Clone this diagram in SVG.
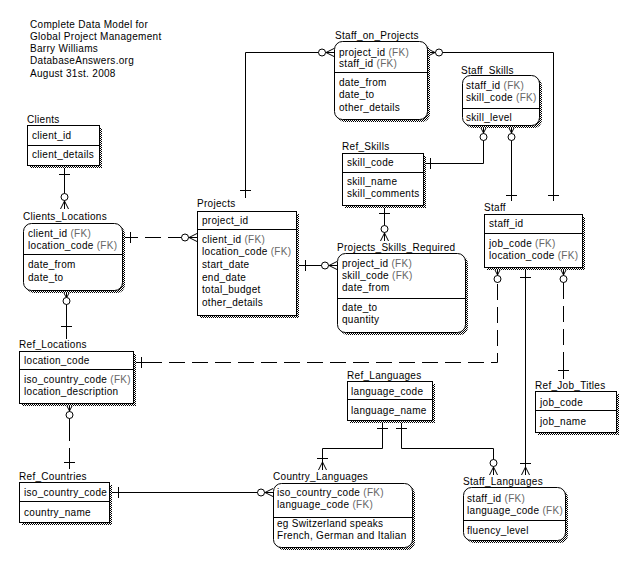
<svg xmlns="http://www.w3.org/2000/svg" width="644" height="576" viewBox="0 0 644 576">
<defs>
<pattern id="hatch" width="2" height="2" patternUnits="userSpaceOnUse">
<rect width="2" height="2" fill="#fff"/>
<rect width="1" height="1" fill="#000"/>
<rect x="1" y="1" width="1" height="1" fill="#000"/>
</pattern>
<style>
.t{font-family:"Liberation Sans",Arial,sans-serif;font-size:10px;letter-spacing:0.3px;fill:#000}
.fk{fill:#666}
.box{fill:#fff;stroke:#000;stroke-width:1}
.sh{fill:url(#hatch)}
.ln{stroke:#000;stroke-width:1;fill:none}
.dash{stroke-dasharray:16,7}
.c{fill:#fff;stroke:#000;stroke-width:1}
</style>
</defs>
<rect width="644" height="576" fill="#fff"/>
<g id="title" class="t">
<text x="30" y="27.5">Complete Data Model for</text>
<text x="30" y="39.8">Global Project Management</text>
<text x="30" y="52.1">Barry Williams</text>
<text x="30" y="64.4">DatabaseAnswers.org</text>
<text x="30" y="76.7">August 31st. 2008</text>
</g>
<g id="connectors">
<!-- Projects - Staff_on_Projects -->
<path class="ln" d="M245.5,198 V52.5 H334"/>
<path class="ln" d="M240,190.5 H251"/>
<path class="ln" d="M326,52.5 L334,48.5 M326,52.5 L334,52.5 M326,52.5 L334,56.5"/>
<circle class="c" cx="322" cy="52.5" r="3.5"/>
<!-- Staff_on_Projects - Staff -->
<path class="ln" d="M427,52.5 H553.5 V201"/>
<path class="ln" d="M435,52.5 L427,48.5 M435,52.5 L427,52.5 M435,52.5 L427,56.5"/>
<circle class="c" cx="439" cy="52.5" r="3.5"/>
<path class="ln" d="M548,195.5 H559"/>
<!-- Staff_Skills - Staff -->
<path class="ln" d="M511.5,125 V201"/>
<path class="ln" d="M511.5,133 L507.5,125 M511.5,133 L511.5,125 M511.5,133 L515.5,125"/>
<circle class="c" cx="511.5" cy="137" r="3.5"/>
<path class="ln" d="M506,195.5 H517"/>
<!-- Ref_Skills - Staff_Skills -->
<path class="ln" d="M423,163.5 H483.5 V125"/>
<path class="ln" d="M430.5,158 V169"/>
<path class="ln" d="M483.5,133 L479.5,125 M483.5,133 L483.5,125 M483.5,133 L487.5,125"/>
<circle class="c" cx="483.5" cy="137" r="3.5"/>
<!-- Ref_Skills - Projects_Skills_Required -->
<path class="ln" d="M384.5,205 V241"/>
<path class="ln" d="M379,213.5 H390"/>
<path class="ln" d="M384.5,233 L380.5,241 M384.5,233 L384.5,241 M384.5,233 L388.5,241"/>
<circle class="c" cx="384.5" cy="229" r="3.5"/>
<!-- Projects - Projects_Skills_Required -->
<path class="ln" d="M296,265.5 H337"/>
<path class="ln" d="M305.5,260 V271"/>
<path class="ln" d="M329,265.5 L337,261.5 M329,265.5 L337,265.5 M329,265.5 L337,269.5"/>
<circle class="c" cx="325" cy="265.5" r="3.5"/>
<!-- Clients - Clients_Locations -->
<path class="ln" d="M64.5,165 V209"/>
<path class="ln" d="M59,174.5 H70"/>
<path class="ln" d="M64.5,201 L60.5,209 M64.5,201 L64.5,209 M64.5,201 L68.5,209"/>
<circle class="c" cx="64.5" cy="197" r="3.5"/>
<!-- Clients_Locations - Projects -->
<path class="ln dash" d="M122,237.5 H181"/>
<path class="ln" d="M181,237.5 H197"/>
<path class="ln" d="M130.5,232 V243"/>
<path class="ln" d="M189,237.5 L197,233.5 M189,237.5 L197,237.5 M189,237.5 L197,241.5"/>
<circle class="c" cx="185" cy="237.5" r="3.5"/>
<!-- Ref_Locations - Clients_Locations -->
<path class="ln" d="M66.5,290 V339"/>
<path class="ln" d="M66.5,298 L62.5,290 M66.5,298 L66.5,290 M66.5,298 L70.5,290"/>
<circle class="c" cx="66.5" cy="301" r="3.5"/>
<path class="ln" d="M61,326.5 H72"/>
<!-- Ref_Locations - Staff -->
<path class="ln dash" d="M146,362.5 H497.5 V283"/>
<path class="ln" d="M133,362.5 H146 M497.5,283 V267"/>
<path class="ln" d="M141.5,357 V368"/>
<path class="ln" d="M497.5,275 L493.5,267 M497.5,275 L497.5,267 M497.5,275 L501.5,267"/>
<circle class="c" cx="497.5" cy="279" r="3.5"/>
<!-- Staff - Ref_Job_Titles -->
<path class="ln dash" d="M563.5,283 V365"/>
<path class="ln" d="M563.5,267 V283 M563.5,365 V379"/>
<path class="ln" d="M563.5,275 L559.5,267 M563.5,275 L563.5,267 M563.5,275 L567.5,267"/>
<circle class="c" cx="563.5" cy="279" r="3.5"/>
<path class="ln" d="M558,370.5 H569"/>
<!-- Staff - Staff_Languages -->
<path class="ln" d="M525.5,267 V475"/>
<path class="ln" d="M520,277.5 H531"/>
<path class="ln" d="M525.5,467 L521.5,475 M525.5,467 L525.5,475 M525.5,467 L529.5,475"/>
<path class="ln" d="M520,463.5 H531"/>
<!-- Ref_Languages - Staff_Languages -->
<path class="ln" d="M401.5,420 V448.5 H493.5 V475"/>
<path class="ln" d="M396,428.5 H407"/>
<path class="ln" d="M493.5,467 L489.5,475 M493.5,467 L493.5,475 M493.5,467 L497.5,475"/>
<circle class="c" cx="493.5" cy="463" r="3.5"/>
<!-- Ref_Languages - Country_Languages -->
<path class="ln" d="M382.5,420 V448.5 H322.5 V470"/>
<path class="ln" d="M377,428.5 H388"/>
<path class="ln" d="M322.5,462 L318.5,470 M322.5,462 L322.5,470 M322.5,462 L326.5,470"/>
<path class="ln" d="M317,458.5 H328"/>
<!-- Ref_Countries - Country_Languages -->
<path class="ln" d="M109,492.5 H273"/>
<path class="ln" d="M118.5,487 V498"/>
<path class="ln" d="M265,492.5 L273,488.5 M265,492.5 L273,492.5 M265,492.5 L273,496.5"/>
<circle class="c" cx="261" cy="492.5" r="3.5"/>
<!-- Ref_Countries - Ref_Locations -->
<path class="ln dash" d="M69.5,425 V455"/>
<path class="ln" d="M69.5,403 V425 M69.5,455 V469"/>
<path class="ln" d="M69.5,411 L65.5,403 M69.5,411 L69.5,403 M69.5,411 L73.5,403"/>
<circle class="c" cx="69.5" cy="415" r="3.5"/>
<path class="ln" d="M64,462.5 H75"/>
</g>
<g id="Clients">
<rect class="sh" x="30" y="128" width="72" height="40"/>
<rect class="box" x="27.5" y="125.5" width="72" height="40"/>
<line class="ln" x1="27.5" y1="145.5" x2="99.5" y2="145.5"/>
<text class="t" x="27" y="123">Clients</text>
<text class="t" x="32" y="138.5">client_id</text>
<text class="t" x="32" y="157.5">client_details</text>
</g>
<g id="Clients_Locations">
<rect class="sh" x="26" y="226" width="99" height="67" rx="8"/>
<rect class="box" x="23.5" y="223.5" width="99" height="67" rx="8"/>
<line class="ln" x1="23.5" y1="254.5" x2="122.5" y2="254.5"/>
<text class="t" x="23" y="220">Clients_Locations</text>
<text class="t" x="28" y="236.5">client_id <tspan class="fk">(FK)</tspan></text>
<text class="t" x="28" y="248.5">location_code <tspan class="fk">(FK)</tspan></text>
<text class="t" x="28" y="267.5">date_from</text>
<text class="t" x="28" y="280.5">date_to</text>
</g>
<g id="Projects">
<rect class="sh" x="200" y="214" width="99" height="104"/>
<rect class="box" x="197.5" y="211.5" width="99" height="104"/>
<line class="ln" x1="197.5" y1="229.5" x2="296.5" y2="229.5"/>
<text class="t" x="197" y="207">Projects</text>
<text class="t" x="202" y="223.5">project_id</text>
<text class="t" x="202" y="242.5">client_id <tspan class="fk">(FK)</tspan></text>
<text class="t" x="202" y="255.2">location_code <tspan class="fk">(FK)</tspan></text>
<text class="t" x="202" y="267.9">start_date</text>
<text class="t" x="202" y="280.6">end_date</text>
<text class="t" x="202" y="293.3">total_budget</text>
<text class="t" x="202" y="306">other_details</text>
</g>
<g id="Staff_on_Projects">
<rect class="sh" x="337" y="44" width="93" height="78" rx="8"/>
<rect class="box" x="334.5" y="41.5" width="93" height="78" rx="8"/>
<line class="ln" x1="334.5" y1="72.5" x2="427.5" y2="72.5"/>
<text class="t" x="335" y="38.5">Staff_on_Projects</text>
<text class="t" x="339" y="55.5">project_id <tspan class="fk">(FK)</tspan></text>
<text class="t" x="339" y="66.8">staff_id <tspan class="fk">(FK)</tspan></text>
<text class="t" x="339" y="85.5">date_from</text>
<text class="t" x="339" y="98.3">date_to</text>
<text class="t" x="339" y="111.1">other_details</text>
</g>
<g id="Staff_Skills">
<rect class="sh" x="465" y="78" width="77" height="50" rx="8"/>
<rect class="box" x="462.5" y="75.5" width="77" height="50" rx="8"/>
<line class="ln" x1="462.5" y1="108.5" x2="539.5" y2="108.5"/>
<text class="t" x="461" y="73.5">Staff_Skills</text>
<text class="t" x="466" y="88.5">staff_id <tspan class="fk">(FK)</tspan></text>
<text class="t" x="466" y="101.3">skill_code <tspan class="fk">(FK)</tspan></text>
<text class="t" x="466" y="120.5">skill_level</text>
</g>
<g id="Ref_Skills">
<rect class="sh" x="345" y="156" width="81" height="52"/>
<rect class="box" x="342.5" y="153.5" width="81" height="52"/>
<line class="ln" x1="342.5" y1="172.5" x2="423.5" y2="172.5"/>
<text class="t" x="342" y="149.5">Ref_Skills</text>
<text class="t" x="347" y="165.5">skill_code</text>
<text class="t" x="347" y="184.5">skill_name</text>
<text class="t" x="347" y="197">skill_comments</text>
</g>
<g id="Projects_Skills_Required">
<rect class="sh" x="340" y="256" width="128" height="79" rx="8"/>
<rect class="box" x="337.5" y="253.5" width="128" height="79" rx="8"/>
<line class="ln" x1="337.5" y1="298.5" x2="465.5" y2="298.5"/>
<text class="t" x="337" y="250.5">Projects_Skills_Required</text>
<text class="t" x="342" y="266.5">project_id <tspan class="fk">(FK)</tspan></text>
<text class="t" x="342" y="278.8">skill_code <tspan class="fk">(FK)</tspan></text>
<text class="t" x="342" y="291.3">date_from</text>
<text class="t" x="342" y="310.5">date_to</text>
<text class="t" x="342" y="323.3">quantity</text>
</g>
<g id="Staff">
<rect class="sh" x="487" y="217" width="98" height="53"/>
<rect class="box" x="484.5" y="214.5" width="98" height="53"/>
<line class="ln" x1="484.5" y1="233.5" x2="582.5" y2="233.5"/>
<text class="t" x="484" y="210.5">Staff</text>
<text class="t" x="489" y="226.5">staff_id</text>
<text class="t" x="489" y="246.5">job_code <tspan class="fk">(FK)</tspan></text>
<text class="t" x="489" y="259.3">location_code <tspan class="fk">(FK)</tspan></text>
</g>
<g id="Ref_Locations">
<rect class="sh" x="22" y="354" width="114" height="52"/>
<rect class="box" x="19.5" y="351.5" width="114" height="52"/>
<line class="ln" x1="19.5" y1="369.5" x2="133.5" y2="369.5"/>
<text class="t" x="19" y="347.5">Ref_Locations</text>
<text class="t" x="24" y="363.5">location_code</text>
<text class="t" x="24" y="382.5">iso_country_code <tspan class="fk">(FK)</tspan></text>
<text class="t" x="24" y="395.3">location_description</text>
</g>
<g id="Ref_Languages">
<rect class="sh" x="350" y="384" width="85" height="39"/>
<rect class="box" x="347.5" y="381.5" width="85" height="39"/>
<line class="ln" x1="347.5" y1="399.5" x2="432.5" y2="399.5"/>
<text class="t" x="347" y="378.5">Ref_Languages</text>
<text class="t" x="351" y="394.5">language_code</text>
<text class="t" x="351" y="413.5">language_name</text>
</g>
<g id="Ref_Job_Titles">
<rect class="sh" x="538" y="394" width="81" height="41"/>
<rect class="box" x="535.5" y="391.5" width="81" height="41"/>
<line class="ln" x1="535.5" y1="410.5" x2="616.5" y2="410.5"/>
<text class="t" x="535" y="388.5">Ref_Job_Titles</text>
<text class="t" x="540" y="405.5">job_code</text>
<text class="t" x="540" y="424.5">job_name</text>
</g>
<g id="Ref_Countries">
<rect class="sh" x="22" y="485" width="90" height="40"/>
<rect class="box" x="19.5" y="482.5" width="90" height="40"/>
<line class="ln" x1="19.5" y1="501.5" x2="109.5" y2="501.5"/>
<text class="t" x="19" y="479.5">Ref_Countries</text>
<text class="t" x="24" y="495.5">iso_country_code</text>
<text class="t" x="24" y="515.5">country_name</text>
</g>
<g id="Country_Languages">
<rect class="sh" x="276" y="486" width="139" height="64" rx="8"/>
<rect class="box" x="273.5" y="483.5" width="139" height="64" rx="8"/>
<line class="ln" x1="273.5" y1="517.5" x2="412.5" y2="517.5"/>
<text class="t" x="273" y="479.5">Country_Languages</text>
<text class="t" x="277" y="495.5">iso_country_code <tspan class="fk">(FK)</tspan></text>
<text class="t" x="277" y="507.8">language_code <tspan class="fk">(FK)</tspan></text>
<text class="t" x="277" y="526.5">eg Switzerland speaks</text>
<text class="t" x="277" y="539.3">French, German and Italian</text>
</g>
<g id="Staff_Languages">
<rect class="sh" x="466" y="490" width="102" height="53" rx="8"/>
<rect class="box" x="463.5" y="487.5" width="102" height="53" rx="8"/>
<line class="ln" x1="463.5" y1="520.5" x2="565.5" y2="520.5"/>
<text class="t" x="463" y="484.5">Staff_Languages</text>
<text class="t" x="467" y="501.5">staff_id <tspan class="fk">(FK)</tspan></text>
<text class="t" x="467" y="513.8">language_code <tspan class="fk">(FK)</tspan></text>
<text class="t" x="467" y="533.5">fluency_level</text>
</g>
</svg>
